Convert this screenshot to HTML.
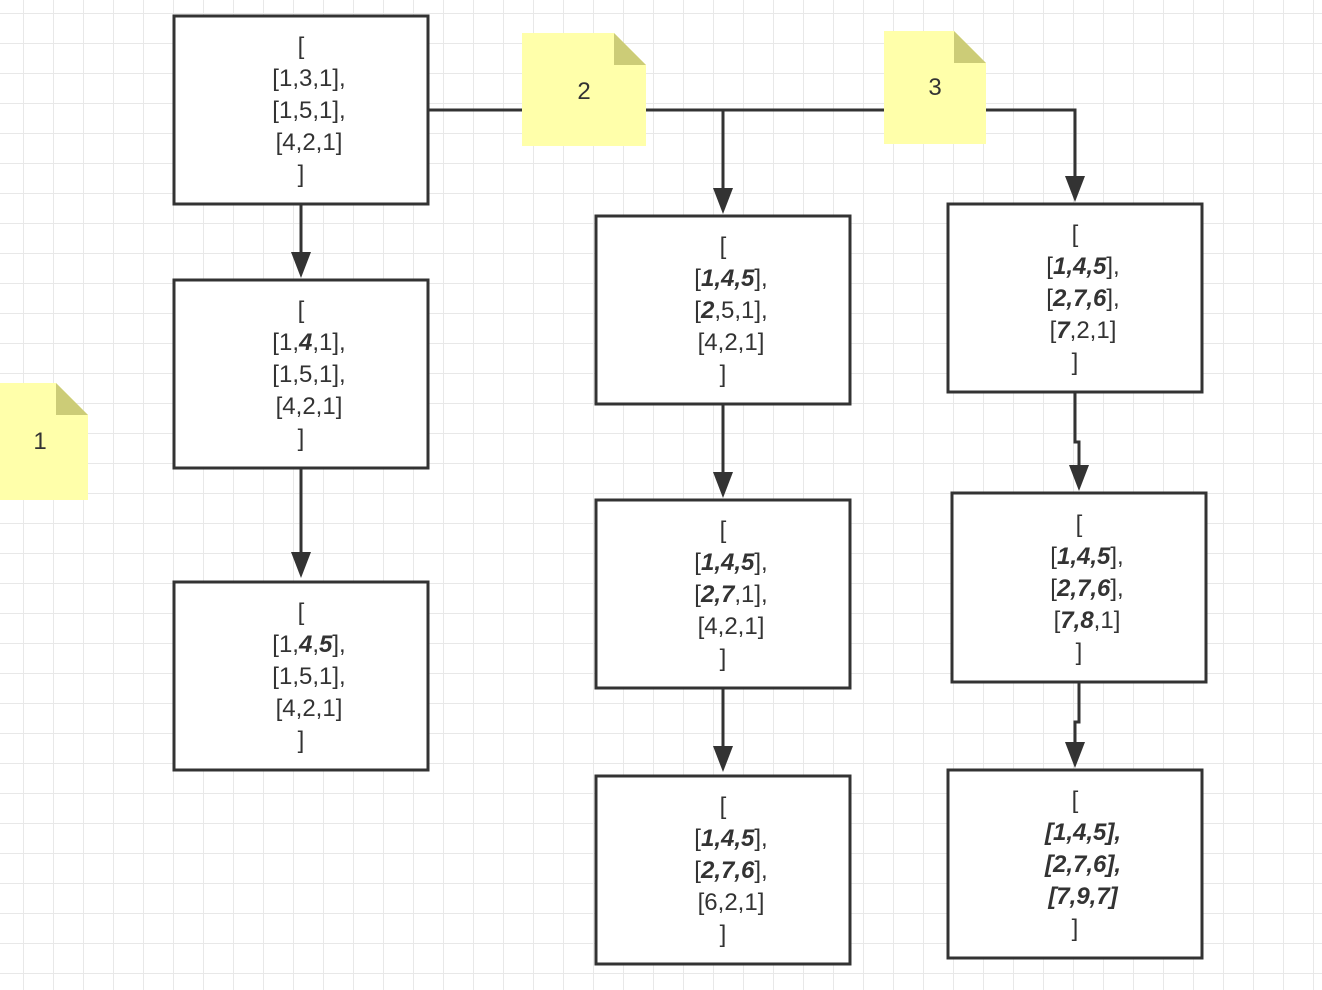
<!DOCTYPE html>
<html><head><meta charset="utf-8"><style>
html,body{margin:0;padding:0;background:#fff;}
svg{display:block;}
text{font-family:"Liberation Sans",sans-serif;font-size:24px;fill:#333;}
</style></head><body>
<svg width="1322" height="990" viewBox="0 0 1322 990" xmlns="http://www.w3.org/2000/svg">
<defs>
<pattern id="g" x="23" y="13" width="30" height="30" patternUnits="userSpaceOnUse">
<path d="M0 0H30M0 0V30" stroke="#e8e8e8" stroke-width="2" fill="none"/>
</pattern>
<marker id="a" markerWidth="10" markerHeight="12" refX="5" refY="11" orient="auto" markerUnits="userSpaceOnUse" viewBox="0 0 10 12">
</marker>
</defs>
<rect width="1322" height="990" fill="url(#g)"/>
<!-- notes -->
<g>
<path d="M0 383H56L88 415V500H0Z" fill="#ffffaa"/><path d="M56 383L88 415H56Z" fill="#cccc77"/>
<text x="40" y="449" text-anchor="middle">1</text>
<path d="M522 33H614L646 65V146H522Z" fill="#ffffaa"/><path d="M614 33L646 65H614Z" fill="#cccc77"/>
<text x="584" y="99" text-anchor="middle">2</text>
<path d="M884 31H954L986 63V144H884Z" fill="#ffffaa"/><path d="M954 31L986 63H954Z" fill="#cccc77"/>
<text x="935" y="95" text-anchor="middle">3</text>
</g>
<!-- connectors -->
<g stroke="#333" stroke-width="3" fill="none">
<path d="M428 110H522M646 110H884M986 110H1075V180"/>
<path d="M723 110V192"/>
<path d="M301 204V256M301 468V558"/>
<path d="M723 404V476M723 688V752"/>
<path d="M1075 392V442H1079V470M1079 682V722H1075V746"/>
</g>
<g fill="#333">
<path d="M291 252L311 252L301 278Z"/>
<path d="M291 552L311 552L301 578Z"/>
<path d="M713 188L733 188L723 214Z"/>
<path d="M713 472L733 472L723 498Z"/>
<path d="M713 746L733 746L723 772Z"/>
<path d="M1065 176L1085 176L1075 202Z"/>
<path d="M1069 465L1089 465L1079 491Z"/>
<path d="M1065 742L1085 742L1075 768Z"/>
</g>
<!-- boxes -->
<g fill="#fff" stroke="#333" stroke-width="3">
<rect x="174" y="16" width="254" height="188"/>
<rect x="174" y="280" width="254" height="188"/>
<rect x="174" y="582" width="254" height="188"/>
<rect x="596" y="216" width="254" height="188"/>
<rect x="596" y="500" width="254" height="188"/>
<rect x="596" y="776" width="254" height="188"/>
<rect x="948" y="204" width="254" height="188"/>
<rect x="952" y="493" width="254" height="189"/>
<rect x="948" y="770" width="254" height="188"/>
</g>
<g text-anchor="middle">
<text x="301" y="54">[</text><text x="309" y="86">[1,3,1],</text><text x="309" y="118">[1,5,1],</text><text x="309" y="150">[4,2,1]</text><text x="301" y="182">]</text>

<text x="301" y="318">[</text><text x="309" y="350">[1,<tspan font-style="italic" font-weight="bold">4</tspan>,1],</text><text x="309" y="382">[1,5,1],</text><text x="309" y="414">[4,2,1]</text><text x="301" y="446">]</text>

<text x="301" y="620">[</text><text x="309" y="652">[1,<tspan font-style="italic" font-weight="bold">4</tspan>,<tspan font-style="italic" font-weight="bold">5</tspan>],</text><text x="309" y="684">[1,5,1],</text><text x="309" y="716">[4,2,1]</text><text x="301" y="748">]</text>

<text x="723" y="254">[</text><text x="731" y="286">[<tspan font-style="italic" font-weight="bold">1,4,5</tspan>],</text><text x="731" y="318">[<tspan font-style="italic" font-weight="bold">2</tspan>,5,1],</text><text x="731" y="350">[4,2,1]</text><text x="723" y="382">]</text>

<text x="723" y="538">[</text><text x="731" y="570">[<tspan font-style="italic" font-weight="bold">1,4,5</tspan>],</text><text x="731" y="602">[<tspan font-style="italic" font-weight="bold">2,7</tspan>,1],</text><text x="731" y="634">[4,2,1]</text><text x="723" y="666">]</text>

<text x="723" y="814">[</text><text x="731" y="846">[<tspan font-style="italic" font-weight="bold">1,4,5</tspan>],</text><text x="731" y="878">[<tspan font-style="italic" font-weight="bold">2,7,6</tspan>],</text><text x="731" y="910">[6,2,1]</text><text x="723" y="942">]</text>

<text x="1075" y="242">[</text><text x="1083" y="274">[<tspan font-style="italic" font-weight="bold">1,4,5</tspan>],</text><text x="1083" y="306">[<tspan font-style="italic" font-weight="bold">2,7,6</tspan>],</text><text x="1083" y="338">[<tspan font-style="italic" font-weight="bold">7</tspan>,2,1]</text><text x="1075" y="370">]</text>

<text x="1079" y="532">[</text><text x="1087" y="564">[<tspan font-style="italic" font-weight="bold">1,4,5</tspan>],</text><text x="1087" y="596">[<tspan font-style="italic" font-weight="bold">2,7,6</tspan>],</text><text x="1087" y="628">[<tspan font-style="italic" font-weight="bold">7,8</tspan>,1]</text><text x="1079" y="660">]</text>

<text x="1075" y="808">[</text><text x="1083" y="840" font-style="italic" font-weight="bold">[1,4,5],</text><text x="1083" y="872" font-style="italic" font-weight="bold">[2,7,6],</text><text x="1083" y="904" font-style="italic" font-weight="bold">[7,9,7]</text><text x="1075" y="936">]</text>
</g>
</svg>
</body></html>
